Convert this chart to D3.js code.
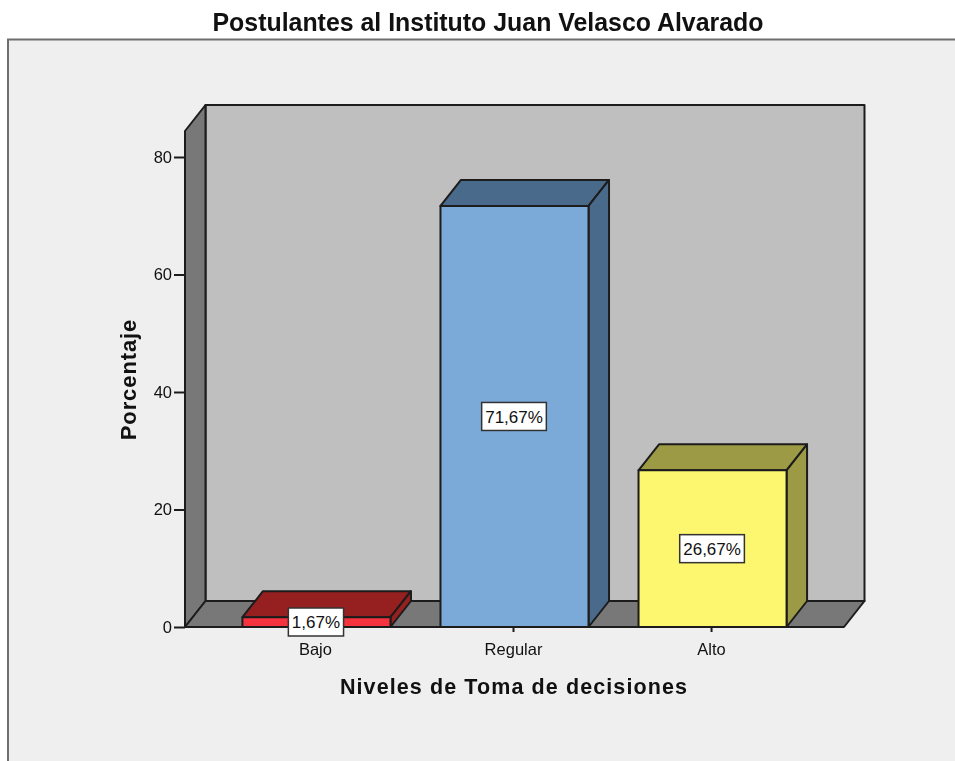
<!DOCTYPE html>
<html>
<head>
<meta charset="utf-8">
<script src="https://cdn.jsdelivr.net/npm/d3@7"></script>
<style>
  html, body { margin: 0; padding: 0; background: #fff; }
  svg { display: block; filter: blur(0.4px); }
  text { font-family: "Liberation Sans", Arial, sans-serif; fill: #111; }
</style>
</head>
<body>
<div id="layout"></div>
<script>
// values
const categories = ["Bajo", "Regular", "Alto"];
const percentages = [1.67, 71.67, 26.67];
const valueLabels = ["1,67%", "71,67%", "26,67%"];
const yTicks = [0, 20, 40, 60, 80];
const frontColors = ["#f5333f", "#7ba9d8", "#fcf76f"];
const sideColors = ["#95201f", "#4a6a8c", "#9c9a45"];

const outerWidth = 955, outerHeight = 761;
const depthX = 20.5, depthY = -26;
const line = "#1c1c1c";

const svg = d3.select("#layout")
  .append("svg")
  .attr("width", outerWidth)
  .attr("height", outerHeight);

// outer panel
svg.append("rect")
  .attr("x", 8).attr("y", 39.5)
  .attr("width", outerWidth + 10).attr("height", outerHeight)
  .attr("fill", "#efefef")
  .attr("stroke", "#6e6e6e")
  .attr("stroke-width", 2);

svg.append("text")
  .attr("x", 488).attr("y", 31)
  .attr("text-anchor", "middle")
  .attr("font-size", 24.9)
  .attr("font-weight", "bold")
  .text("Postulantes al Instituto Juan Velasco Alvarado");

const xScale = d3.scaleBand()
  .domain(categories)
  .range([185, 844])
  .paddingInner(0.2525)
  .paddingOuter(0.29);

const yScale = d3.scaleLinear()
  .domain([0, 80])
  .range([627, 157]);

const xLeft = xScale.range()[0], xRight = xScale.range()[1];
const yBase = yScale(0);
const yTop = 131; // front edge of the left wall

const poly = (pts, fill) => svg.append("polygon")
  .attr("points", pts.map(p => p.join(",")).join(" "))
  .attr("fill", fill)
  .attr("stroke", line)
  .attr("stroke-width", 2)
  .attr("stroke-linejoin", "round");

// back wall, left wall, floor
poly([[xLeft + depthX, yTop + depthY], [xRight + depthX, yTop + depthY], [xRight + depthX, yBase + depthY], [xLeft + depthX, yBase + depthY]], "#bfbfbf");
poly([[xLeft, yTop], [xLeft + depthX, yTop + depthY], [xLeft + depthX, yBase + depthY], [xLeft, yBase]], "#787878");
poly([[xLeft, yBase], [xLeft + depthX, yBase + depthY], [xRight + depthX, yBase + depthY], [xRight, yBase]], "#787878");

// axes
const yAxis = d3.axisLeft(yScale)
  .tickValues(yTicks)
  .tickSize(11)
  .tickPadding(2);

const gy = svg.append("g")
  .attr("id", "y-axis")
  .attr("transform", "translate(" + xLeft + ",0)")
  .call(yAxis);
gy.select(".domain").remove();
gy.selectAll("line").attr("stroke", line).attr("stroke-width", 2);
gy.selectAll("text").attr("font-size", 16.5).attr("font-family", "Liberation Sans");

const xAxis = d3.axisBottom(xScale)
  .tickSize(5)
  .tickPadding(11);

const gx = svg.append("g")
  .attr("id", "x-axis")
  .attr("transform", "translate(-1," + yBase + ")")
  .call(xAxis);
gx.select(".domain").remove();
gx.selectAll("line").attr("stroke", line).attr("stroke-width", 2);
gx.selectAll("text").attr("font-size", 16.5).attr("font-family", "Liberation Sans");

// bars
categories.forEach((c, i) => {
  const x0 = xScale(c), x1 = x0 + xScale.bandwidth();
  const y1 = yScale(percentages[i]);
  poly([[x0, y1], [x0 + depthX, y1 + depthY], [x1 + depthX, y1 + depthY], [x1, y1]], sideColors[i]);
  poly([[x1, y1], [x1 + depthX, y1 + depthY], [x1 + depthX, yBase + depthY], [x1, yBase]], sideColors[i]);
  poly([[x0, y1], [x1, y1], [x1, yBase], [x0, yBase]], frontColors[i]);
});

// value labels
categories.forEach((c, i) => {
  const cx = xScale(c) + xScale.bandwidth() / 2 - 0.5;
  const cy = i === 0 ? 622 : yScale(percentages[i] / 2);
  const g = svg.append("g").attr("transform", "translate(" + cx + "," + cy + ")");
  const label = g.append("text")
    .attr("text-anchor", "middle")
    .attr("dy", "0.36em")
    .attr("font-size", 17)
    .text(valueLabels[i]);
  const w = label.node().getComputedTextLength() + 7;
  g.insert("rect", "text")
    .attr("x", -w / 2).attr("y", -14)
    .attr("width", w).attr("height", 28)
    .attr("fill", "#fff")
    .attr("stroke", "#333")
    .attr("stroke-width", 1.5);
});

// axis titles
svg.append("text")
  .attr("x", 514).attr("y", 694)
  .attr("text-anchor", "middle")
  .attr("font-size", 21.5)
  .attr("font-weight", "bold")
  .attr("letter-spacing", 1.1)
  .text("Niveles de Toma de decisiones");

svg.append("text")
  .attr("transform", "translate(136,379.5) rotate(-90)")
  .attr("text-anchor", "middle")
  .attr("font-size", 22)
  .attr("font-weight", "bold")
  .attr("letter-spacing", 0.9)
  .text("Porcentaje");
</script>
</body>
</html>
